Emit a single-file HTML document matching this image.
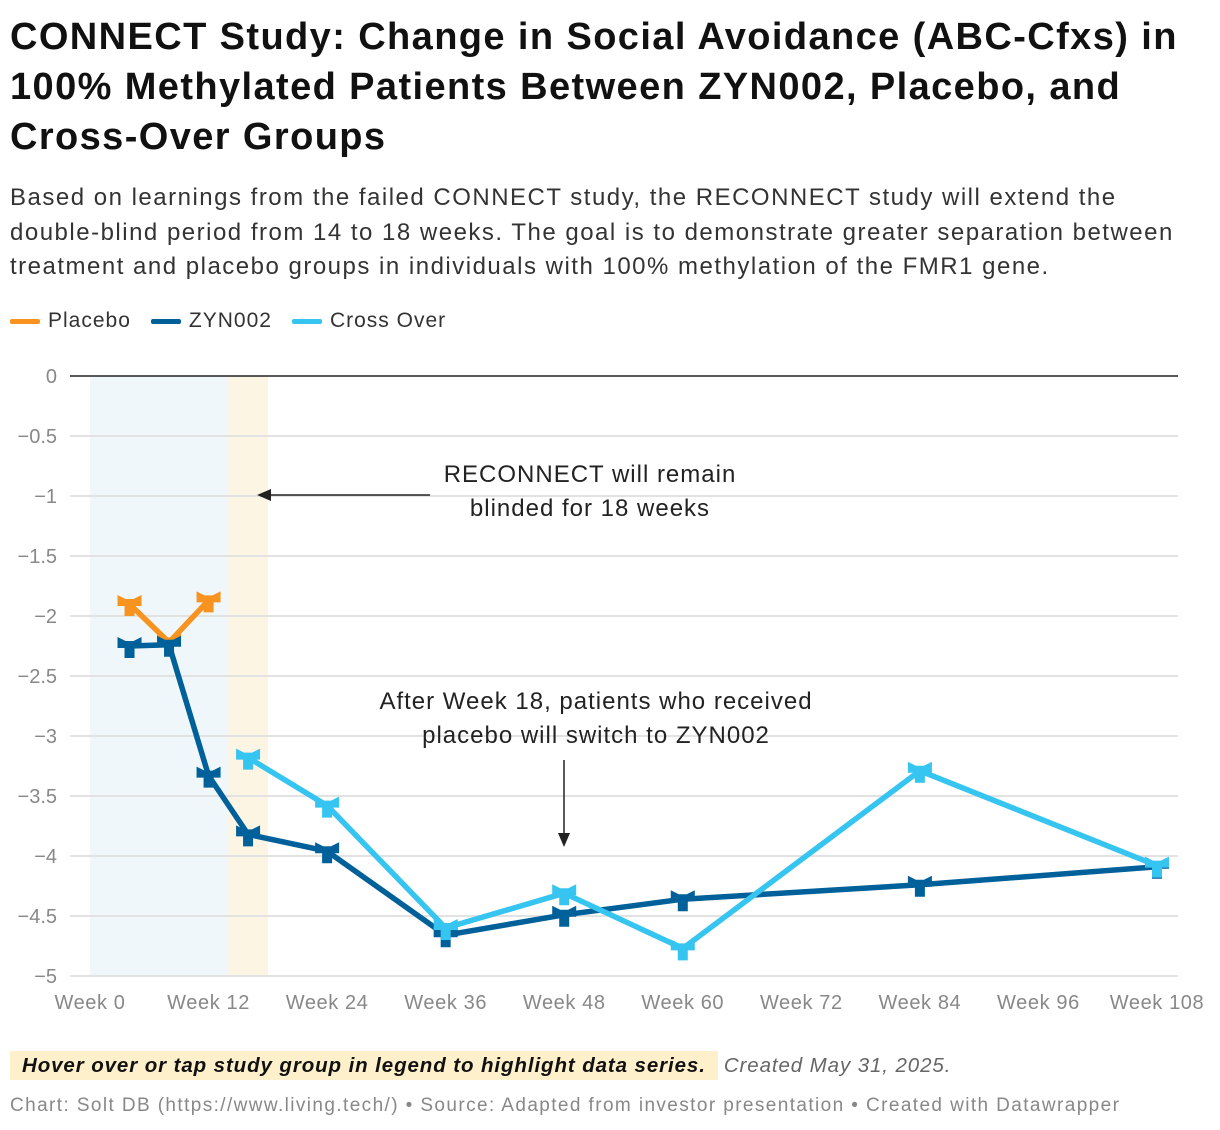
<!DOCTYPE html>
<html><head><meta charset="utf-8"><style>
body{margin:0;background:#fff;font-family:"Liberation Sans",Arial,sans-serif;width:1220px;height:1130px;overflow:hidden}
h1{position:absolute;left:10px;top:12px;margin:0;font-size:38px;letter-spacing:1.4px;line-height:50px;font-weight:bold;color:#111;width:1215px;white-space:nowrap}
.desc{position:absolute;left:10px;top:181px;font-size:24px;letter-spacing:1.5px;line-height:34.5px;color:#333;width:1215px;white-space:nowrap}
.legend{position:absolute;left:10px;top:309px;font-size:21px;letter-spacing:1px;color:#333;display:flex;gap:20px}
.legend span{display:flex;align-items:center}
.legend i{display:inline-block;width:30px;height:5px;margin-right:8px;border-radius:2px}
.note{position:absolute;left:10px;top:1054px;font-size:20.5px;letter-spacing:0.9px;color:#666;font-style:italic}
.note b{background:#fdf0cb;color:#111;padding:3px 12px;margin-right:6px}
.foot{position:absolute;left:10px;top:1095px;font-size:19px;letter-spacing:1.4px;color:#888}
</style></head><body>
<h1>CONNECT Study: Change in Social Avoidance (ABC-Cfxs) in<br>100% Methylated Patients Between ZYN002, Placebo, and<br>Cross-Over Groups</h1>
<div class="desc">Based on learnings from the failed CONNECT study, the RECONNECT study will extend the<br>double-blind period from 14 to 18 weeks. The goal is to demonstrate greater separation between<br>treatment and placebo groups in individuals with 100% methylation of the FMR1 gene.</div>
<div class="legend">
<span><i style="background:#f7931e"></i>Placebo</span>
<span><i style="background:#00609a"></i>ZYN002</span>
<span><i style="background:#36c4f0"></i>Cross Over</span>
</div>
<svg id="chart" width="1220" height="1130" style="position:absolute;left:0;top:0"></svg>
<div class="note"><b>Hover over or tap study group in legend to highlight data series.</b>Created May 31, 2025.</div>
<div class="foot">Chart: Solt DB (https://www.living.tech/) • Source: Adapted from investor presentation • Created with Datawrapper</div>
<script>
const yTicks=[0,-0.5,-1,-1.5,-2,-2.5,-3,-3.5,-4,-4.5,-5];
const xTicks=[0,12,24,36,48,60,72,84,96,108];
const placeboWeeks=[4,8,12];
const placeboVals=[-1.9,-2.22,-1.87];
const zynWeeks=[4,8,12,16,24,36,48,60,84,108];
const zynVals=[-2.25,-2.24,-3.33,-3.82,-3.96,-4.66,-4.49,-4.36,-4.24,-4.09];
const crossWeeks=[16,24,36,48,60,84,108];
const crossVals=[-3.18,-3.58,-4.6,-4.31,-4.77,-3.29,-4.08];
const NS="http://www.w3.org/2000/svg";
const svg=document.getElementById('chart');
const X=w=>90+w*(1157-90)/108;
const Y=v=>376-v*120;
function mk(t,a,p){const e=document.createElementNS(NS,t);for(const k in a)e.setAttribute(k,a[k]);(p||svg).appendChild(e);return e;}
let r=mk('rect',{x:X(0),y:Y(0),width:X(14)-X(0),height:Y(-5)-Y(0),fill:'#f0f7fb'});

r=mk('rect',{x:X(14),y:Y(0),width:X(18)-X(14),height:Y(-5)-Y(0),fill:'#fdf5e3'});

yTicks.forEach(v=>{
 const l=mk('line',{x1:70,x2:1178,y1:Y(v),y2:Y(v),stroke:v===0?'#222':'#e2e2e2','stroke-width':v===0?1.5:2});
 
 const t=mk('text',{x:57,y:Y(v)+7,'text-anchor':'end','font-size':20,fill:'#888'});
 t.textContent=String(v).replace('-','−');
 
});
xTicks.forEach(w=>{
 const t=mk('text',{x:X(w),y:1009,'text-anchor':'middle','font-size':20,'letter-spacing':0.6,fill:'#888'});
 t.textContent='Week '+w;
 
});
function series(ws,vs,col,name){
 const g=mk('g',{});
 
 const pl=mk('polyline',{points:ws.map((w,i)=>X(w)+','+Y(vs[i])).join(' '),fill:'none',stroke:col,'stroke-width':5.5,'stroke-linejoin':'round'},g);
 
 ws.forEach((w,i)=>{
  const x=X(w),y=Y(vs[i]);
  const m=mk('path',{d:`M${x-12} ${y-9} L${x-4} ${y-5} L${x+4} ${y-5} L${x+12} ${y-9} L${x+12} ${y+2} L${x+5} ${y+2} L${x+5} ${y+12} L${x-5} ${y+12} L${x-5} ${y+2} L${x-12} ${y+2}Z`,fill:col},g);
  
 });
}
series(placeboWeeks,placeboVals,'#f7931e','placebo');
series(zynWeeks,zynVals,'#00609a','zyn002');
series(crossWeeks,crossVals,'#36c4f0','cross-over');
function txt(lines,x,y,name){lines.forEach((s,i)=>{const t=mk('text',{x:x,y:y+i*34,'text-anchor':'middle','font-size':24,'letter-spacing':1,fill:'#222'});t.textContent=s;});}
txt(['RECONNECT will remain','blinded for 18 weeks'],590,482,'annotation-reconnect');
txt(['After Week 18, patients who received','placebo will switch to ZYN002'],596,709,'annotation-crossover');
let a=mk('line',{x1:430,y1:495,x2:268,y2:495,stroke:'#222','stroke-width':1.5});
a=mk('path',{d:'M257 495 L271 489 L271 501Z',fill:'#222'});
a=mk('line',{x1:564,y1:760,x2:564,y2:836,stroke:'#222','stroke-width':1.5});
a=mk('path',{d:'M564 847 L558 833 L570 833Z',fill:'#222'});
</script>
</body></html>
